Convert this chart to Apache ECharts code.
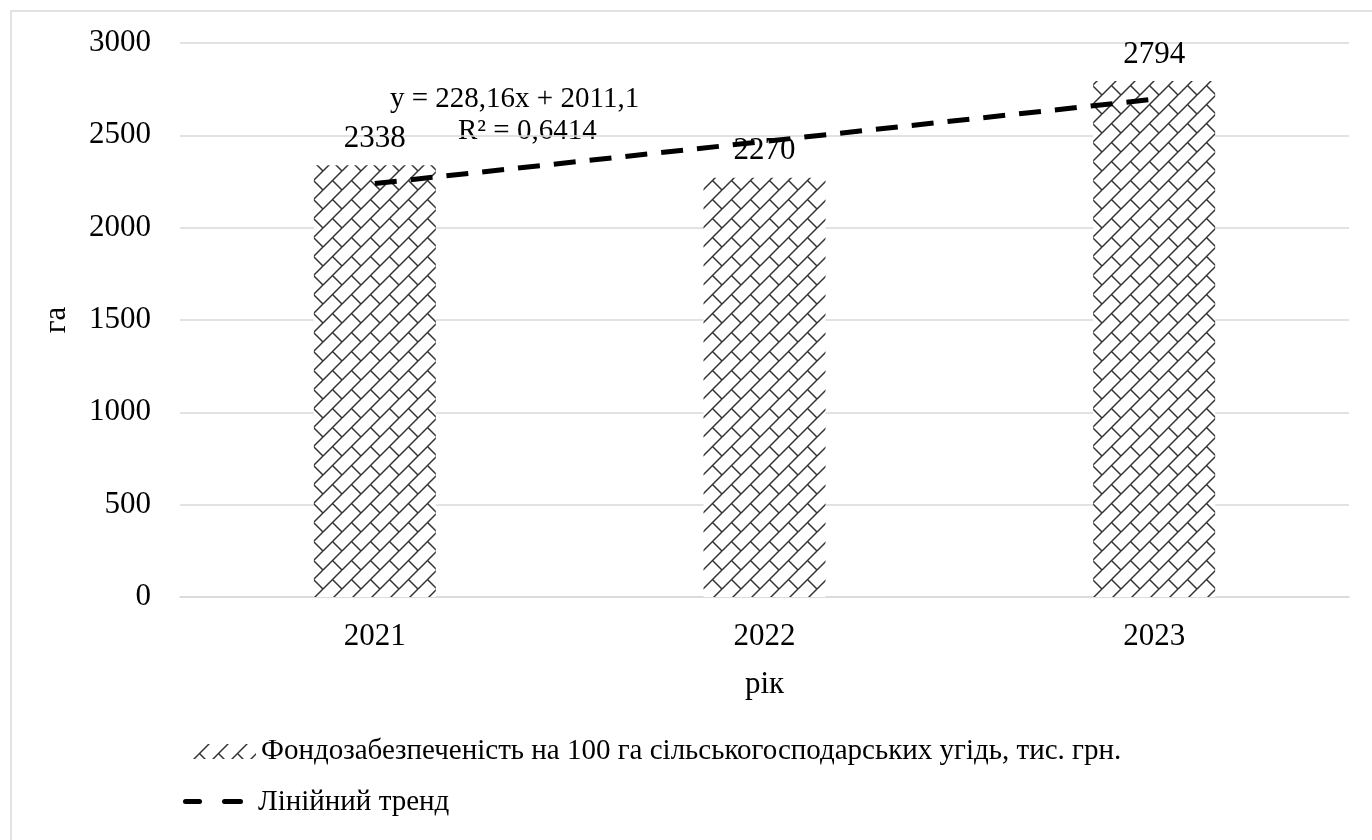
<!DOCTYPE html>
<html>
<head>
<meta charset="utf-8">
<script src="https://cdn.jsdelivr.net/npm/echarts@6/dist/echarts.min.js"></script>
<style>
html,body{margin:0;padding:0;background:#fff;}
#c{width:1372px;height:840px;}
</style>
</head>
<body>
<div id="c"></div>
<script>
const categories = ['2021', '2022', '2023'];
const barValues = [2338, 2270, 2794];
const trendValues = [2239, 2467, 2696];
const yTicks = [0, 500, 1000, 1500, 2000, 2500, 3000];
const barName = 'Фондозабезпеченість на 100 га сільськогосподарських угідь, тис. грн.';
const trendName = 'Лінійний тренд';
const eqLine1 = 'y = 228,16x + 2011,1';
const eqLine2 = 'R² = 0,6414';

const FONT = '"Liberation Serif", "DejaVu Serif", serif';

function makePattern() {
  const T = 19;
  const c = document.createElement('canvas');
  c.width = T; c.height = T;
  const ctx = c.getContext('2d');
  ctx.fillStyle = '#fff';
  ctx.fillRect(0, 0, T, T);
  ctx.strokeStyle = '#333';
  ctx.lineWidth = 1.5;
  for (let dx = -T; dx <= T; dx += T) {
    for (let dy = -T; dy <= T; dy += T) {
      ctx.beginPath();
      ctx.moveTo(dx, dy + T);
      ctx.lineTo(dx + T, dy);
      ctx.stroke();
      ctx.beginPath();
      ctx.moveTo(dx + T / 2, dy + T / 2);
      ctx.lineTo(dx + T, dy + T);
      ctx.stroke();
    }
  }
  return c;
}

const chart = echarts.init(document.getElementById('c'));
const pattern = { image: makePattern(), repeat: 'repeat' };

chart.setOption({
  animation: false,
  backgroundColor: '#fff',
  grid: { left: 180, right: 23, top: 43, bottom: 243 },
  graphic: [
    { type: 'rect', shape: { x: 11, y: 11, width: 1420, height: 900 },
      style: { fill: 'none', stroke: '#d9d9d9', lineWidth: 1.5 }, silent: true },
    { type: 'text', left: 390, top: 85, style: { text: eqLine1, font: '29px ' + FONT, fill: '#000' } },
    { type: 'text', left: 458, top: 117, style: { text: eqLine2, font: '29px ' + FONT, fill: '#000' } },
    { type: 'rect', shape: { x: 183, y: 799, width: 19, height: 5, r: 2.5 }, style: { fill: '#000' } },
    { type: 'rect', shape: { x: 222, y: 799, width: 21, height: 5, r: 2.5 }, style: { fill: '#000' } },
    { type: 'text', left: 258, top: 788, style: { text: trendName, font: '29px ' + FONT, fill: '#000' } }
  ],
  legend: {
    orient: 'vertical',
    left: 185, top: 732,
    itemWidth: 66, itemHeight: 15, itemGap: 16,
    textStyle: { fontFamily: FONT, fontSize: 29, color: '#000' },
    data: [barName]
  },
  xAxis: {
    type: 'category',
    data: categories,
    name: 'рік', nameLocation: 'middle', nameGap: 72,
    nameTextStyle: { fontFamily: FONT, fontSize: 31, color: '#000' },
    axisLine: { show: true, lineStyle: { color: '#d9d9d9', width: 1.5 } },
    axisTick: { show: false },
    axisLabel: { fontFamily: FONT, fontSize: 31, color: '#000', margin: 24 }
  },
  yAxis: {
    type: 'value', min: 0, max: 3000, interval: 500,
    name: 'га', nameLocation: 'middle', nameGap: 108, nameRotate: 90,
    nameTextStyle: { fontFamily: FONT, fontSize: 31, color: '#000' },
    axisLine: { show: false },
    axisTick: { show: false },
    splitLine: { lineStyle: { color: '#d9d9d9', width: 1.5 } },
    axisLabel: { fontFamily: FONT, fontSize: 31, color: '#000', margin: 29,
      formatter: v => yTicks.includes(v) ? String(v) : '' }
  },
  series: [
    {
      name: barName, type: 'bar', data: barValues, barWidth: 122,
      itemStyle: { color: pattern },
      label: { show: true, position: 'top', distance: 11,
        fontFamily: FONT, fontSize: 31, color: '#000' },
      z: 2
    },
    {
      name: trendName, type: 'line', data: trendValues,
      symbol: 'none', showSymbol: false,
      lineStyle: { color: '#000', width: 5, type: [22, 14] },
      itemStyle: { color: '#000' },
      z: 3
    }
  ]
});
</script>
</body>
</html>
